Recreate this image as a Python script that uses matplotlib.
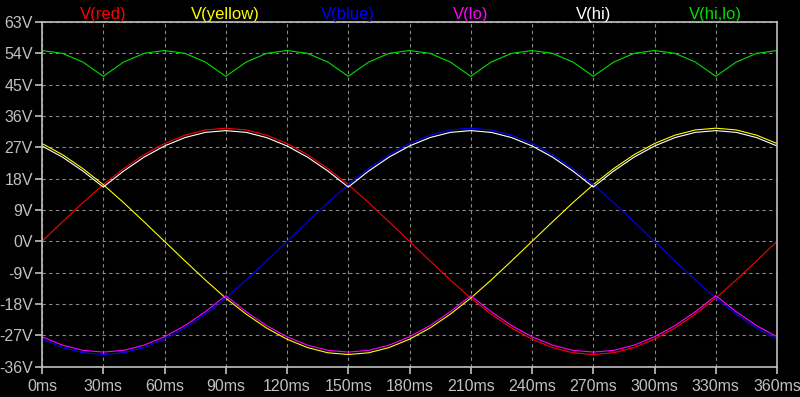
import matplotlib
matplotlib.use("Agg")
import matplotlib.pyplot as plt

# time axis in ms, one sample every 10 ms
t_ms = list(range(0, 361, 10))

# three-phase voltages (V)
v_red = [0.0, 5.6, 11.1, 16.3, 20.9, 24.9, 28.1, 30.5, 32.0, 32.5,
         32.0, 30.5, 28.1, 24.9, 20.9, 16.3, 11.1, 5.6, 0.0,
         -5.6, -11.1, -16.3, -20.9, -24.9, -28.1, -30.5, -32.0, -32.5,
         -32.0, -30.5, -28.1, -24.9, -20.9, -16.3, -11.1, -5.6, 0.0]
v_yellow = [28.1, 24.9, 20.9, 16.3, 11.1, 5.6, 0.0, -5.6, -11.1, -16.3,
            -20.9, -24.9, -28.1, -30.5, -32.0, -32.5, -32.0, -30.5, -28.1,
            -24.9, -20.9, -16.3, -11.1, -5.6, 0.0, 5.6, 11.1, 16.3,
            20.9, 24.9, 28.1, 30.5, 32.0, 32.5, 32.0, 30.5, 28.1]
v_blue = [-28.1, -30.5, -32.0, -32.5, -32.0, -30.5, -28.1, -24.9, -20.9, -16.3,
          -11.1, -5.6, 0.0, 5.6, 11.1, 16.3, 20.9, 24.9, 28.1,
          30.5, 32.0, 32.5, 32.0, 30.5, 28.1, 24.9, 20.9, 16.3,
          11.1, 5.6, 0.0, -5.6, -11.1, -16.3, -20.9, -24.9, -28.1]
# rectifier outputs
v_hi = [27.4, 24.2, 20.2, 15.6, 20.2, 24.2, 27.4, 29.8, 31.3, 31.8,
        31.3, 29.8, 27.4, 24.2, 20.2, 15.6, 20.2, 24.2, 27.4,
        29.8, 31.3, 31.8, 31.3, 29.8, 27.4, 24.2, 20.2, 15.6,
        20.2, 24.2, 27.4, 29.8, 31.3, 31.8, 31.3, 29.8, 27.4]
v_lo = [-27.4, -29.8, -31.3, -31.8, -31.3, -29.8, -27.4, -24.2, -20.2, -15.6,
        -20.2, -24.2, -27.4, -29.8, -31.3, -31.8, -31.3, -29.8, -27.4,
        -24.2, -20.2, -15.6, -20.2, -24.2, -27.4, -29.8, -31.3, -31.8,
        -31.3, -29.8, -27.4, -24.2, -20.2, -15.6, -20.2, -24.2, -27.4]
v_hilo = [54.8, 54.0, 51.5, 47.4, 51.5, 54.0, 54.8, 54.0, 51.5, 47.4,
          51.5, 54.0, 54.8, 54.0, 51.5, 47.4, 51.5, 54.0, 54.8,
          54.0, 51.5, 47.4, 51.5, 54.0, 54.8, 54.0, 51.5, 47.4,
          51.5, 54.0, 54.8, 54.0, 51.5, 47.4, 51.5, 54.0, 54.8]

names = ['V(red)', 'V(yellow)', 'V(blue)', 'V(lo)', 'V(hi)', 'V(hi,lo)']
colors = ['#ff0000', '#ffff00', '#0000ff', '#ff00ff', '#ffffff', '#00dd00']
name_pos = [30, 90, 150, 210, 270, 330]

x_ticks = list(range(0, 361, 30))
y_ticks = list(range(-36, 64, 9))

plt.rcParams['font.family'] = ['Liberation Sans', 'DejaVu Sans']

fig = plt.figure(figsize=(8, 3.97), dpi=100, facecolor='black')
ax = fig.add_axes([0.0525, 0.0763, 0.9188, 0.8683])
ax.set_facecolor('black')

series = [v_red, v_yellow, v_blue, v_lo, v_hi, v_hilo]
for vals, c in zip(series, colors):
    ax.plot(t_ms, vals, color=c, lw=0.8)

ax.set_xlim(0, 360)
ax.set_ylim(-36, 63)
ax.set_xticks(x_ticks)
ax.set_xticklabels([f'{v}ms' for v in x_ticks])
ax.set_yticks(y_ticks)
ax.set_yticklabels([f'{v}V' for v in y_ticks])

ax.grid(True, color='#8a8a8a', linestyle=(0, (3, 3)), linewidth=0.8)
ax.tick_params(colors='#c0c0c0', labelsize=11.5, length=5, width=1.2)
ax.tick_params(axis='y', pad=1.5)
ax.tick_params(axis='x', pad=4)
for sp in ax.spines.values():
    sp.set_color('#c0c0c0')
    sp.set_linewidth(1.2)

for name, c, xp in zip(names, colors, name_pos):
    ax.text(xp, 1.0, name, color=c, fontsize=12, ha='center', va='bottom',
            transform=ax.get_xaxis_transform())

fig.savefig('out.png', dpi=100, facecolor='black')
